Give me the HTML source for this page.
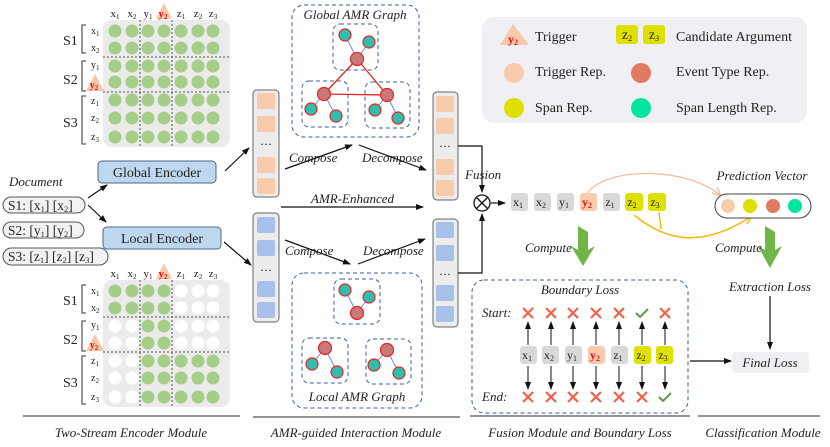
<!DOCTYPE html>
<html><head><meta charset="utf-8"><style>
html,body{margin:0;padding:0;background:#fff;}
svg{display:block;font-family:"Liberation Serif",serif;}
.it{font-style:italic;}
</style></head><body>
<svg width="830" height="447" viewBox="0 0 830 447" xmlns="http://www.w3.org/2000/svg">
<defs>
<marker id="ah" markerWidth="8" markerHeight="8" refX="7" refY="4" orient="auto" markerUnits="userSpaceOnUse"><path d="M0,1 L8,4 L0,7 z" fill="#111"/></marker>
<marker id="ahO" markerWidth="10" markerHeight="10" refX="9" refY="5" orient="auto" markerUnits="userSpaceOnUse"><path d="M0,1 L9,5 L0,9" fill="none" stroke="#f4b895" stroke-width="1.3"/></marker>
<marker id="ahY" markerWidth="10" markerHeight="10" refX="9" refY="5" orient="auto" markerUnits="userSpaceOnUse"><path d="M0,1 L9,5 L0,9" fill="none" stroke="#f5b800" stroke-width="1.5"/></marker>
<g id="rG"><circle cx="115" cy="0" r="6.5" fill="#a5cf88"/><circle cx="132" cy="0" r="6.5" fill="#a5cf88"/><circle cx="148" cy="0" r="6.5" fill="#a5cf88"/><circle cx="164" cy="0" r="6.5" fill="#a5cf88"/><circle cx="181" cy="0" r="6.5" fill="#a5cf88"/><circle cx="198" cy="0" r="6.5" fill="#a5cf88"/><circle cx="213" cy="0" r="6.5" fill="#a5cf88"/></g>
<g id="rA"><circle cx="115" cy="0" r="6.5" fill="#a5cf88"/><circle cx="132" cy="0" r="6.5" fill="#a5cf88"/><circle cx="148" cy="0" r="6.5" fill="#a5cf88"/><circle cx="164" cy="0" r="6.5" fill="#a5cf88"/><circle cx="181" cy="0" r="6.5" fill="#fff"/><circle cx="198" cy="0" r="6.5" fill="#fff"/><circle cx="213" cy="0" r="6.5" fill="#fff"/></g>
<g id="rB"><circle cx="115" cy="0" r="6.5" fill="#fff"/><circle cx="132" cy="0" r="6.5" fill="#fff"/><circle cx="148" cy="0" r="6.5" fill="#a5cf88"/><circle cx="164" cy="0" r="6.5" fill="#a5cf88"/><circle cx="181" cy="0" r="6.5" fill="#fff"/><circle cx="198" cy="0" r="6.5" fill="#fff"/><circle cx="213" cy="0" r="6.5" fill="#fff"/></g>
<g id="rC"><circle cx="115" cy="0" r="6.5" fill="#fff"/><circle cx="132" cy="0" r="6.5" fill="#fff"/><circle cx="148" cy="0" r="6.5" fill="#a5cf88"/><circle cx="164" cy="0" r="6.5" fill="#a5cf88"/><circle cx="181" cy="0" r="6.5" fill="#a5cf88"/><circle cx="198" cy="0" r="6.5" fill="#a5cf88"/><circle cx="213" cy="0" r="6.5" fill="#a5cf88"/></g>
<g id="xm"><path d="M-5,-5 L5,5 M5,-5 L-5,5" stroke="#f0604a" stroke-width="2.2"/></g>
<g id="ck"><path d="M-6,0 L-2,4 L6,-4" stroke="#5a9a48" stroke-width="2" fill="none"/></g>
</defs>

<rect x="103" y="20" width="127" height="127" rx="9" fill="#ebebeb"/>
<use href="#rG" y="31"/><use href="#rG" y="48"/><use href="#rG" y="66"/><use href="#rG" y="82"/><use href="#rG" y="100"/><use href="#rG" y="118"/><use href="#rG" y="137"/>
<g stroke="#555" stroke-dasharray="2,2" stroke-width="1"><line x1="140" y1="20" x2="140" y2="147"/><line x1="172" y1="20" x2="172" y2="147"/><line x1="103" y1="57" x2="230" y2="57"/><line x1="103" y1="92" x2="230" y2="92"/></g>
<g font-size="11" fill="#222" text-anchor="middle"><text x="115" y="17">x<tspan font-size="7" dy="2">1</tspan></text><text x="132" y="17">x<tspan font-size="7" dy="2">2</tspan></text><text x="148" y="17">y<tspan font-size="7" dy="2">1</tspan></text><text x="181" y="17">z<tspan font-size="7" dy="2">1</tspan></text><text x="198" y="17">z<tspan font-size="7" dy="2">2</tspan></text><text x="213" y="17">z<tspan font-size="7" dy="2">3</tspan></text></g>
<polygon points="164,3 156,19 172,19" fill="#f8c8a8"/><text x="163" y="17" font-size="11" fill="#e01010" text-anchor="middle" font-weight="bold">y<tspan font-size="7" dy="2">2</tspan></text>
<g font-size="14" fill="#222"><text x="63" y="45">S1</text><text x="63" y="84">S2</text><text x="63" y="127">S3</text></g>
<g stroke="#333" fill="none" stroke-width="1"><path d="M86,25 H82 V53 H86"/><path d="M86,61 H82 V91 H86"/><path d="M86,96 H82 V144 H86"/></g>
<g font-size="10" fill="#222"><text x="91" y="34">x<tspan font-size="7" dy="2">1</tspan></text><text x="91" y="51">x<tspan font-size="7" dy="2">2</tspan></text><text x="91" y="68">y<tspan font-size="7" dy="2">1</tspan></text><text x="91" y="104">z<tspan font-size="7" dy="2">1</tspan></text><text x="91" y="121">z<tspan font-size="7" dy="2">2</tspan></text><text x="91" y="140">z<tspan font-size="7" dy="2">3</tspan></text></g>
<polygon points="95,74 86,91 104,91" fill="#f8c8a8"/><text x="94" y="88" font-size="10" fill="#e01010" text-anchor="middle" font-weight="bold">y<tspan font-size="7" dy="2">2</tspan></text>

<rect x="103" y="280" width="127" height="127" rx="9" fill="#ebebeb"/>
<use href="#rA" y="291"/><use href="#rA" y="308"/><use href="#rB" y="326"/><use href="#rB" y="343"/><use href="#rC" y="361"/><use href="#rC" y="378"/><use href="#rC" y="397"/>
<g stroke="#555" stroke-dasharray="2,2" stroke-width="1"><line x1="140" y1="280" x2="140" y2="407"/><line x1="172" y1="280" x2="172" y2="407"/><line x1="103" y1="317" x2="230" y2="317"/><line x1="103" y1="352" x2="230" y2="352"/></g>
<g font-size="11" fill="#222" text-anchor="middle"><text x="115" y="277">x<tspan font-size="7" dy="2">1</tspan></text><text x="132" y="277">x<tspan font-size="7" dy="2">2</tspan></text><text x="148" y="277">y<tspan font-size="7" dy="2">1</tspan></text><text x="181" y="277">z<tspan font-size="7" dy="2">1</tspan></text><text x="198" y="277">z<tspan font-size="7" dy="2">2</tspan></text><text x="213" y="277">z<tspan font-size="7" dy="2">3</tspan></text></g>
<polygon points="164,263 156,279 172,279" fill="#f8c8a8"/><text x="163" y="277" font-size="11" fill="#e01010" text-anchor="middle" font-weight="bold">y<tspan font-size="7" dy="2">2</tspan></text>
<g font-size="14" fill="#222"><text x="63" y="305">S1</text><text x="63" y="344">S2</text><text x="63" y="387">S3</text></g>
<g stroke="#333" fill="none" stroke-width="1"><path d="M86,285 H82 V313 H86"/><path d="M86,321 H82 V351 H86"/><path d="M86,356 H82 V404 H86"/></g>
<g font-size="10" fill="#222"><text x="91" y="294">x<tspan font-size="7" dy="2">1</tspan></text><text x="91" y="311">x<tspan font-size="7" dy="2">2</tspan></text><text x="91" y="328">y<tspan font-size="7" dy="2">1</tspan></text><text x="91" y="364">z<tspan font-size="7" dy="2">1</tspan></text><text x="91" y="381">z<tspan font-size="7" dy="2">2</tspan></text><text x="91" y="400">z<tspan font-size="7" dy="2">3</tspan></text></g>
<polygon points="95,334 86,351 104,351" fill="#f8c8a8"/><text x="94" y="348" font-size="10" fill="#e01010" text-anchor="middle" font-weight="bold">y<tspan font-size="7" dy="2">2</tspan></text>

<text x="9" y="186" font-size="13" class="it" fill="#222">Document</text>
<g fill="#f2f2f2" stroke="#555" stroke-width="1"><rect x="3" y="197" width="82" height="16" rx="8"/><rect x="3" y="222" width="81" height="16" rx="8"/><rect x="3" y="248" width="105" height="17" rx="8.5"/></g>
<g font-size="13.5" fill="#222"><text x="8" y="210">S1: [x<tspan font-size="8.5" dy="2">1</tspan><tspan dy="-2">] [x</tspan><tspan font-size="8.5" dy="2">2</tspan><tspan dy="-2">]</tspan></text>
<text x="8" y="235">S2: [y<tspan font-size="8.5" dy="2">1</tspan><tspan dy="-2">] [y</tspan><tspan font-size="8.5" dy="2">2</tspan><tspan dy="-2">]</tspan></text>
<text x="8" y="261">S3: [z<tspan font-size="8.5" dy="2">1</tspan><tspan dy="-2">] [z</tspan><tspan font-size="8.5" dy="2">2</tspan><tspan dy="-2">] [z</tspan><tspan font-size="8.5" dy="2">3</tspan><tspan dy="-2">]</tspan></text></g>

<rect x="98" y="161" width="118" height="22" rx="4" fill="#bdd7ee" stroke="#4a6a8a"/>
<text x="157" y="177" font-size="14" text-anchor="middle" fill="#222">Global Encoder</text>
<rect x="103" y="227" width="118" height="22" rx="4" fill="#bdd7ee" stroke="#4a6a8a"/>
<text x="162" y="243" font-size="14" text-anchor="middle" fill="#222">Local Encoder</text>
<g stroke="#111" stroke-width="1.2" marker-end="url(#ah)"><line x1="88" y1="198" x2="107" y2="185"/><line x1="88" y1="205" x2="106" y2="222"/><line x1="225" y1="171" x2="249" y2="148"/><line x1="224" y1="242" x2="251" y2="265"/></g>

<rect x="253" y="90" width="26" height="107" rx="4" fill="#ececec" stroke="#666"/>
<g fill="#f8cbad"><rect x="257" y="93" width="18" height="16" rx="2"/><rect x="257" y="116" width="18" height="16" rx="2"/><rect x="257" y="157" width="18" height="16" rx="2"/><rect x="257" y="178" width="18" height="16" rx="2"/></g>
<text x="266" y="148" font-size="12" text-anchor="middle">···</text>
<rect x="253" y="213" width="26" height="109" rx="4" fill="#ececec" stroke="#666"/>
<g fill="#a9c1ea"><rect x="257" y="217" width="18" height="16" rx="2"/><rect x="257" y="240" width="18" height="16" rx="2"/><rect x="257" y="281" width="18" height="16" rx="2"/><rect x="257" y="302" width="18" height="16" rx="2"/></g>
<text x="266" y="274" font-size="12" text-anchor="middle">···</text>
<rect x="433" y="92" width="25" height="108" rx="4" fill="#ececec" stroke="#666"/>
<g fill="#f8cbad"><rect x="436" y="96" width="18" height="16" rx="2"/><rect x="436" y="118" width="18" height="16" rx="2"/><rect x="436" y="159" width="18" height="16" rx="2"/><rect x="436" y="180" width="18" height="16" rx="2"/></g>
<text x="445" y="150" font-size="12" text-anchor="middle">···</text>
<rect x="433" y="219" width="25" height="108" rx="4" fill="#ececec" stroke="#666"/>
<g fill="#a9c1ea"><rect x="436" y="222" width="18" height="16" rx="2"/><rect x="436" y="245" width="18" height="16" rx="2"/><rect x="436" y="285" width="18" height="16" rx="2"/><rect x="436" y="306" width="18" height="16" rx="2"/></g>
<text x="445" y="278" font-size="12" text-anchor="middle">···</text>

<g stroke="#111" stroke-width="1.2" marker-end="url(#ah)"><line x1="285" y1="169" x2="352" y2="145"/><line x1="359" y1="145" x2="426" y2="170"/><line x1="281" y1="207" x2="423" y2="207"/><line x1="285" y1="240" x2="350" y2="264"/><line x1="358" y1="264" x2="425" y2="239"/></g>
<g font-size="13" class="it" fill="#222"><text x="289" y="162">Compose</text><text x="362" y="162">Decompose</text><text x="311" y="203">AMR-Enhanced</text><text x="285" y="255">Compose</text><text x="363" y="255">Decompose</text></g>

<g fill="none" stroke="#3a5fa0" stroke-dasharray="4,3" stroke-width="1"><rect x="292" y="5" width="127" height="132" rx="12"/><rect x="333" y="24" width="45" height="46" rx="7"/><rect x="302" y="81" width="46" height="46" rx="7"/><rect x="365" y="82" width="45" height="46" rx="7"/>
<rect x="292" y="273" width="130" height="135" rx="12"/><rect x="334" y="279" width="46" height="45" rx="7"/><rect x="302" y="338" width="46" height="45" rx="7"/><rect x="366" y="339" width="45" height="45" rx="7"/></g>
<text x="355" y="19" font-size="13" class="it" text-anchor="middle" fill="#222">Global AMR Graph</text>
<text x="357" y="401" font-size="13" class="it" text-anchor="middle" fill="#222">Local AMR Graph</text>
<g stroke="#6f8fd0" stroke-width="1"><line x1="345" y1="35" x2="357" y2="59"/><line x1="369" y1="42" x2="357" y2="59"/><line x1="324" y1="94" x2="311" y2="109"/><line x1="324" y1="94" x2="336" y2="116"/><line x1="387" y1="95" x2="375" y2="110"/><line x1="387" y1="95" x2="398" y2="118"/>
<line x1="345" y1="290" x2="357" y2="313"/><line x1="369" y1="297" x2="357" y2="313"/><line x1="325" y1="348" x2="312" y2="364"/><line x1="325" y1="348" x2="337" y2="372"/><line x1="387" y1="350" x2="374" y2="365"/><line x1="387" y1="350" x2="399" y2="373"/></g>
<g stroke="#ee2020" stroke-width="1.3"><line x1="357" y1="59" x2="324" y2="94"/><line x1="357" y1="59" x2="387" y2="95"/><line x1="324" y1="94" x2="387" y2="95"/></g>
<g stroke="#ee2020" stroke-width="1.2">
<g fill="#2fbfb0"><circle cx="345" cy="35" r="6"/><circle cx="369" cy="42" r="6"/><circle cx="311" cy="109" r="6"/><circle cx="336" cy="116" r="6"/><circle cx="375" cy="110" r="6"/><circle cx="398" cy="118" r="6"/>
<circle cx="345" cy="290" r="6"/><circle cx="369" cy="297" r="6"/><circle cx="312" cy="364" r="6"/><circle cx="337" cy="372" r="6"/><circle cx="374" cy="365" r="6"/><circle cx="399" cy="373" r="6"/></g>
<g fill="#c77a7a"><circle cx="357" cy="59" r="6.5"/><circle cx="324" cy="94" r="6.5"/><circle cx="387" cy="95" r="6.5"/><circle cx="357" cy="313" r="6.5"/><circle cx="325" cy="348" r="6.5"/><circle cx="387" cy="350" r="6.5"/></g></g>

<g stroke="#111" stroke-width="1.2" fill="none"><polyline points="458,146 482,146 482,192" marker-end="url(#ah)"/><polyline points="458,273 482,273 482,214" marker-end="url(#ah)"/></g>
<circle cx="482" cy="203" r="8" fill="#fff" stroke="#111" stroke-width="1.3"/>
<path d="M476.5,197.5 L487.5,208.5 M487.5,197.5 L476.5,208.5" stroke="#111" stroke-width="1.3"/>
<line x1="491" y1="203" x2="505" y2="203" stroke="#111" stroke-width="1.2" marker-end="url(#ah)"/>
<text x="465" y="179" font-size="13" class="it" fill="#222">Fusion</text>

<g><rect x="511" y="193" width="17" height="18" rx="3" fill="#d9d9d9"/><rect x="534" y="193" width="17" height="18" rx="3" fill="#d9d9d9"/><rect x="557" y="193" width="17" height="18" rx="3" fill="#d9d9d9"/><rect x="580" y="193" width="17" height="18" rx="3" fill="#f8cbad"/><rect x="603" y="193" width="17" height="18" rx="3" fill="#d9d9d9"/><rect x="625" y="193" width="18" height="18" rx="3" fill="#dde000"/><rect x="648" y="193" width="18" height="18" rx="3" fill="#dde000"/></g>
<g font-size="12" text-anchor="middle" fill="#222"><text x="518" y="206">x<tspan font-size="8" dy="2">1</tspan></text><text x="541" y="206">x<tspan font-size="8" dy="2">2</tspan></text><text x="564" y="206">y<tspan font-size="8" dy="2">1</tspan></text><text x="587" y="206" fill="#e01010" font-weight="bold">y<tspan font-size="8" dy="2">2</tspan></text><text x="610" y="206">z<tspan font-size="8" dy="2">1</tspan></text><text x="632" y="206">z<tspan font-size="8" dy="2">2</tspan></text><text x="655" y="206">z<tspan font-size="8" dy="2">3</tspan></text></g>

<path d="M587,193 C610,165 690,168 721,196" fill="none" stroke="#f4b895" stroke-width="1.2" marker-end="url(#ahO)"/>
<path d="M634,215 C665,240 700,250 752,216" fill="none" stroke="#f5b800" stroke-width="1.4" marker-end="url(#ahY)"/>
<line x1="659" y1="212" x2="661" y2="229" stroke="#f5b800" stroke-width="1.4"/>

<text x="762" y="180" font-size="13" class="it" text-anchor="middle" fill="#222">Prediction Vector</text>
<rect x="715" y="194" width="96" height="24" rx="12" fill="#fff" stroke="#444"/>
<circle cx="728" cy="206" r="7" fill="#f8cbad"/><circle cx="750" cy="206" r="7" fill="#dde000"/><circle cx="773" cy="206" r="7" fill="#e07a60"/><circle cx="795" cy="206" r="7" fill="#00e6a0"/>

<path d="M578,226 L588,232 L588,250 L595,246 L583,266 L571,246 L578,250 Z" fill="#70b548"/>
<path d="M765,226 L775,232 L775,250 L782,246 L770,268 L758,246 L765,250 Z" fill="#70b548"/>
<g font-size="13" class="it" fill="#222"><text x="525" y="252">Compute</text><text x="715" y="252">Compute</text></g>

<rect x="472" y="280" width="216" height="133" rx="12" fill="none" stroke="#3a5fa0" stroke-dasharray="4,3"/>
<text x="580" y="294" font-size="13" class="it" text-anchor="middle" fill="#222">Boundary Loss</text>
<text x="482" y="317" font-size="13" class="it" fill="#222">Start:</text>
<text x="482" y="401" font-size="13" class="it" fill="#222">End:</text>
<use href="#xm" x="528" y="313"/><use href="#xm" x="551" y="313"/><use href="#xm" x="573" y="313"/><use href="#xm" x="596" y="313"/><use href="#xm" x="619" y="313"/><use href="#ck" x="642" y="313"/><use href="#xm" x="665" y="313"/>
<use href="#xm" x="528" y="397"/><use href="#xm" x="551" y="397"/><use href="#xm" x="573" y="397"/><use href="#xm" x="596" y="397"/><use href="#xm" x="619" y="397"/><use href="#xm" x="642" y="397"/><use href="#ck" x="665" y="397"/>
<g><rect x="520" y="346" width="17" height="18" rx="3" fill="#d9d9d9"/><rect x="542" y="346" width="17" height="18" rx="3" fill="#d9d9d9"/><rect x="565" y="346" width="17" height="18" rx="3" fill="#d9d9d9"/><rect x="588" y="346" width="17" height="18" rx="3" fill="#f8cbad"/><rect x="611" y="346" width="17" height="18" rx="3" fill="#d9d9d9"/><rect x="634" y="346" width="17" height="18" rx="3" fill="#dde000"/><rect x="656" y="346" width="17" height="18" rx="3" fill="#dde000"/></g>
<g font-size="12" text-anchor="middle" fill="#222"><text x="527" y="359">x<tspan font-size="8" dy="2">1</tspan></text><text x="549" y="359">x<tspan font-size="8" dy="2">2</tspan></text><text x="572" y="359">y<tspan font-size="8" dy="2">1</tspan></text><text x="595" y="359" fill="#e01010" font-weight="bold">y<tspan font-size="8" dy="2">2</tspan></text><text x="618" y="359">z<tspan font-size="8" dy="2">1</tspan></text><text x="641" y="359">z<tspan font-size="8" dy="2">2</tspan></text><text x="663" y="359">z<tspan font-size="8" dy="2">3</tspan></text></g>
<g stroke="#111" stroke-width="1" marker-end="url(#ah)">
<line x1="528" y1="345" x2="528" y2="322"/><line x1="551" y1="345" x2="551" y2="322"/><line x1="573" y1="345" x2="573" y2="322"/><line x1="596" y1="345" x2="596" y2="322"/><line x1="619" y1="345" x2="619" y2="322"/><line x1="642" y1="345" x2="642" y2="322"/><line x1="665" y1="345" x2="665" y2="322"/>
<line x1="528" y1="366" x2="528" y2="389"/><line x1="551" y1="366" x2="551" y2="389"/><line x1="573" y1="366" x2="573" y2="389"/><line x1="596" y1="366" x2="596" y2="389"/><line x1="619" y1="366" x2="619" y2="389"/><line x1="642" y1="366" x2="642" y2="389"/><line x1="665" y1="366" x2="665" y2="389"/>
<line x1="690" y1="361" x2="731" y2="361" stroke-width="1.2"/><line x1="770" y1="296" x2="770" y2="349" stroke-width="1.2"/></g>
<text x="770" y="291" font-size="13" class="it" text-anchor="middle" fill="#222">Extraction Loss</text>
<rect x="732" y="352" width="77" height="21" rx="3" fill="#f0eff4"/>
<text x="770" y="367" font-size="13" class="it" text-anchor="middle" fill="#222">Final Loss</text>

<rect x="482" y="17" width="325" height="106" rx="12" fill="#f0eff4"/>
<polygon points="513,24 500,45 529,45" fill="#f8c8a8"/><text x="513" y="43" font-size="12" fill="#e01010" text-anchor="middle" font-weight="bold">y<tspan font-size="8" dy="2">2</tspan></text>
<rect x="616" y="25" width="22" height="19" rx="3" fill="#dde000"/><rect x="643" y="25" width="22" height="19" rx="3" fill="#dde000"/>
<g font-size="14" fill="#222"><text x="627" y="39" text-anchor="middle">z<tspan font-size="8" dy="2">2</tspan></text><text x="654" y="39" text-anchor="middle">z<tspan font-size="8" dy="2">3</tspan></text>
<text x="535" y="41">Trigger</text><text x="676" y="41">Candidate Argument</text><text x="535" y="76">Trigger Rep.</text><text x="676" y="76">Event Type Rep.</text><text x="535" y="112">Span Rep.</text><text x="676" y="112">Span Length Rep.</text></g>
<circle cx="514" cy="73" r="10" fill="#f8cbad"/><circle cx="641" cy="73" r="10" fill="#e07a60"/><circle cx="514" cy="108" r="10" fill="#dde000"/><circle cx="641" cy="108" r="10" fill="#00e6a0"/>

<g stroke="#555" stroke-width="1.2"><line x1="23" y1="416" x2="240" y2="416"/><line x1="253" y1="417" x2="460" y2="417"/><line x1="470" y1="416" x2="690" y2="416"/><line x1="698" y1="416" x2="820" y2="416"/></g>
<g font-size="13" class="it" text-anchor="middle" fill="#222"><text x="131" y="437">Two-Stream Encoder Module</text><text x="356" y="437">AMR-guided Interaction Module</text><text x="580" y="437">Fusion Module and Boundary Loss</text><text x="763" y="437">Classification Module</text></g>
</svg>
</body></html>
